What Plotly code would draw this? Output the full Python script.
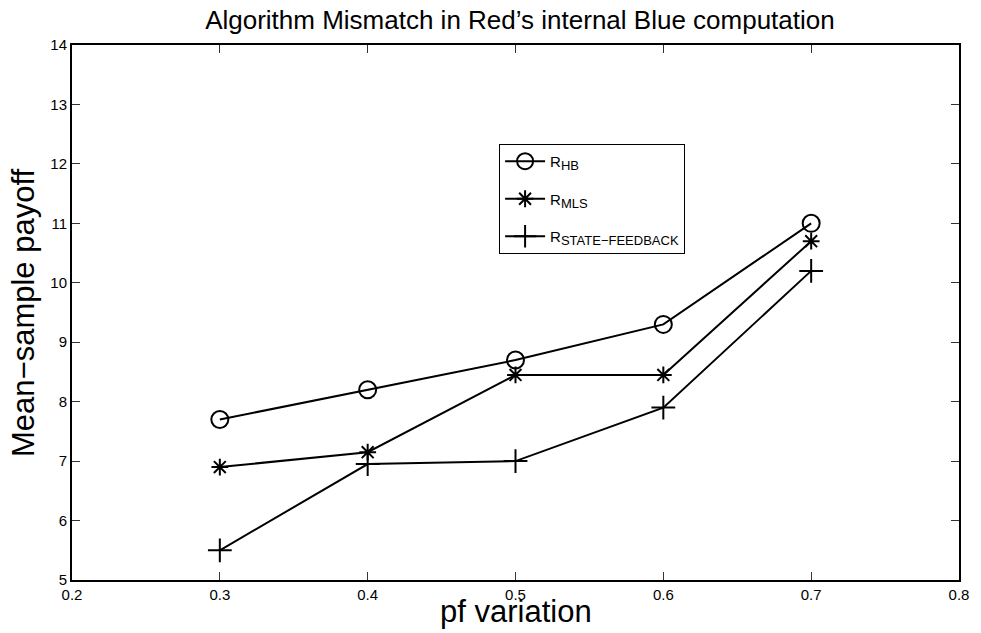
import plotly.graph_objects as go

# pf variation values on the x axis
pf_variation = [0.3, 0.4, 0.5, 0.6, 0.7]

# Mean-sample payoff per algorithm
payoff_hb = [7.7, 8.2, 8.7, 9.3, 11.0]
payoff_mls = [6.9, 7.15, 8.45, 8.45, 10.7]
payoff_state_feedback = [5.5, 6.95, 7.0, 7.9, 10.2]

subscripts = ["HB", "MLS", "STATE\u2212FEEDBACK"]

x_ticks = [0.2, 0.3, 0.4, 0.5, 0.6, 0.7, 0.8]
y_ticks = [5, 6, 7, 8, 9, 10, 11, 12, 13, 14]

FONT = "Liberation Sans, Arial, Helvetica, sans-serif"

fig = go.Figure()

styles = [
    dict(symbol="circle-open", size=17),
    dict(symbol="asterisk-open", size=14),
    dict(symbol="cross-thin-open", size=17),
]

for sub, ys, st in zip(subscripts,
                       [payoff_hb, payoff_mls, payoff_state_feedback],
                       styles):
    label = f"R<sub><span style='font-size:13px'>{sub}</span></sub>"
    fig.add_trace(go.Scatter(
        x=pf_variation, y=ys, name=label, legendgroup=sub,
        mode="lines+markers",
        line=dict(color="black", width=2),
        marker=dict(symbol=st["symbol"], size=st["size"], color="black",
                    line=dict(color="black", width=2)),
    ))

axis_common = dict(
    showgrid=False, zeroline=False,
    showline=True, linecolor="black", linewidth=2, mirror="ticks",
    ticks="inside", ticklen=8, tickwidth=1, tickcolor="#333",
    tickfont=dict(family=FONT, size=15, color="black"),
)

fig.update_xaxes(range=[0.2, 0.8], tickvals=x_ticks,
                 ticktext=[f"{v:g}" for v in x_ticks], **axis_common)
fig.update_yaxes(range=[5, 14], tickvals=y_ticks,
                 ticktext=[str(v) for v in y_ticks], **axis_common)

fig.update_layout(
    width=981, height=633,
    margin=dict(l=72, r=15, t=45, b=53),
    paper_bgcolor="white", plot_bgcolor="white",
    font=dict(family=FONT, color="black"),
    title=dict(text="Algorithm Mismatch in Red\u2019s internal Blue computation",
               x=0.530, xanchor="center", y=1 - 20 / 633, yanchor="middle",
               font=dict(family=FONT, size=26, color="black")),
    showlegend=True,
    legend=dict(x=0.4815, y=0.815, xanchor="left", yanchor="top",
                bordercolor="black", borderwidth=1, bgcolor="white",
                font=dict(family=FONT, size=15, color="black"),
                tracegroupgap=15, itemwidth=40),
    annotations=[
        dict(text="pf variation", xref="paper", yref="paper",
             x=0.5, y=0, xanchor="center", yanchor="top", yshift=-12,
             showarrow=False, font=dict(family=FONT, size=31, color="black")),
        dict(text="Mean\u2212sample payoff", xref="paper", yref="paper",
             x=0, y=0.5, xanchor="right", yanchor="middle", xshift=-29,
             textangle=-90, showarrow=False,
             font=dict(family=FONT, size=31, color="black")),
    ],
)

fig.write_html("out.html")
